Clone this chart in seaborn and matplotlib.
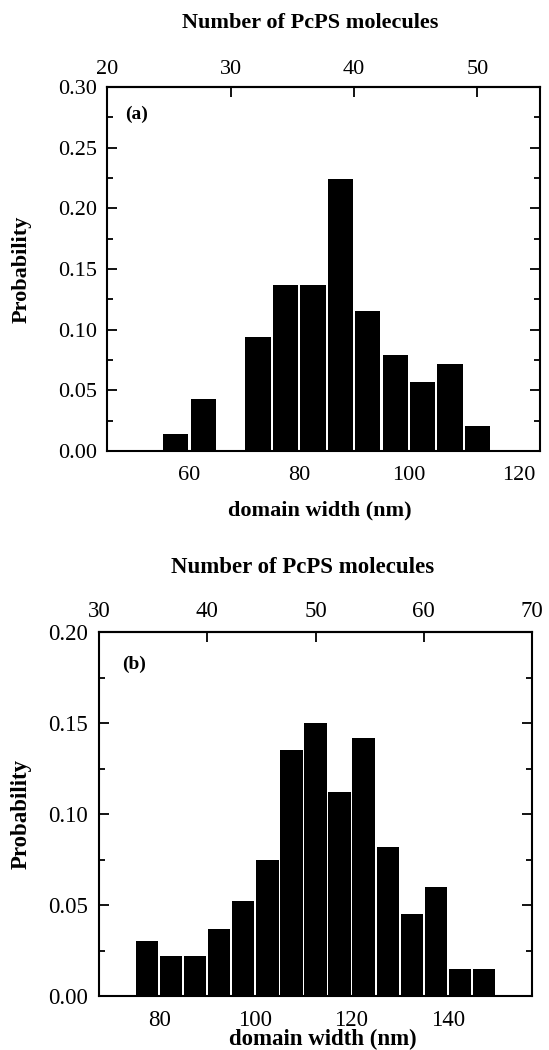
import matplotlib
matplotlib.use('Agg')
import numpy as np
import matplotlib.pyplot as plt
from matplotlib.ticker import MultipleLocator, FormatStrFormatter
import seaborn as sns

# Panel (a): left edge of each 5 nm bin and its probability
bins_a = [55, 60, 65, 70, 75, 80, 85, 90, 95, 100, 105, 110]
prob_a = [0.014, 0.043, 0.0, 0.094, 0.137, 0.137, 0.224, 0.115, 0.079, 0.057, 0.072, 0.021]

# Panel (b)
bins_b = [75, 80, 85, 90, 95, 100, 105, 110, 115, 120, 125, 130, 135, 140, 145]
prob_b = [0.030, 0.022, 0.022, 0.037, 0.052, 0.075, 0.135, 0.150, 0.112, 0.142,
          0.082, 0.045, 0.060, 0.015, 0.015]

xticks_a = [60, 80, 100, 120]
xticks_b = [80, 100, 120, 140]
mol_ticks_a = [20, 30, 40, 50]
mol_ticks_b = [30, 40, 50, 60, 70]

BIN = 5
NM_PER_MOLECULE = 9 / 4   # domain width (nm) per PcPS molecule

sns.set_style('ticks')
plt.rcParams['font.family'] = ['Liberation Serif', 'DejaVu Serif']
plt.rcParams['axes.linewidth'] = 1.5
for key in ['text.color', 'axes.labelcolor', 'axes.edgecolor', 'xtick.color', 'ytick.color']:
    plt.rcParams[key] = 'black'

fig = plt.figure(figsize=(5.49, 10.5), dpi=100)
W, H = 549, 1050


def px_axes(left, right, top, bottom):
    return [left / W, 1 - bottom / H, (right - left) / W, (bottom - top) / H]


def draw_panel(ax, bins, prob, xlim, ylim, xticks, mol_ticks, tag, fs, lay):
    edges = list(bins) + [bins[-1] + BIN]
    centers = [b + BIN / 2 for b in bins]
    sns.histplot(x=centers, weights=prob, bins=edges, stat='count', ax=ax,
                 color='black', alpha=1, shrink=0.92, linewidth=0)
    ax.set_xlim(*xlim)
    ax.set_ylim(*ylim)
    ax.set_xticks(xticks)
    ax.yaxis.set_major_locator(MultipleLocator(0.05))
    ax.yaxis.set_minor_locator(MultipleLocator(0.025))
    ax.yaxis.set_major_formatter(FormatStrFormatter('%.2f'))
    ax.tick_params(axis='x', length=0, labelsize=fs, pad=lay['xpad'])
    ax.tick_params(axis='y', which='both', direction='in', left=True, right=True,
                   labelsize=fs, pad=lay['ypad'], width=1.3)
    ax.tick_params(axis='y', which='major', length=7.5)
    ax.tick_params(axis='y', which='minor', length=4.5)

    ax.set_xlabel('domain width (nm)', fontsize=fs, fontweight='bold', va='baseline')
    ax.xaxis.set_label_coords(lay['xlab'][0], lay['xlab'][1])
    ax.set_ylabel('Probability', fontsize=fs, fontweight='bold')
    ax.yaxis.set_label_coords(lay['ylab'], 0.5)

    top = ax.secondary_xaxis('top', functions=(lambda x: x / NM_PER_MOLECULE,
                                                lambda n: n * NM_PER_MOLECULE))
    top.set_xticks(mol_ticks)
    top.tick_params(direction='in', length=7, width=1.3, labelsize=fs, pad=lay['tpad'])
    top.set_xlabel('Number of PcPS molecules', fontsize=fs, fontweight='bold', va='baseline')
    top.xaxis.set_label_coords(lay['tlab'][0], lay['tlab'][1], transform=ax.transAxes)

    ax.text(lay['tag'][0], lay['tag'][1], tag, transform=ax.transAxes,
            fontsize=14, fontweight='bold', va='baseline')


ax_a = fig.add_axes(px_axes(106.7, 540, 87, 451))
draw_panel(ax_a, bins_a, prob_a, (44.9, 123.9), (0, 0.30), xticks_a, mol_ticks_a, '(a)', 16,
           dict(xpad=11, ypad=7, tpad=6, xlab=(0.491, -0.178), ylab=-0.173,
                tlab=(0.470, 1.161), tag=(0.042, 0.911)))

ax_b = fig.add_axes(px_axes(99.3, 531.7, 632, 996))
draw_panel(ax_b, bins_b, prob_b, (67.5, 157.5), (0, 0.20), xticks_b, mol_ticks_b, '(b)', 16.5,
           dict(xpad=10, ypad=8, tpad=7, xlab=(0.518, -0.1345), ylab=-0.156,
                tlab=(0.469, 1.161), tag=(0.052, 0.898)))

fig.savefig('out.png', dpi=100)
